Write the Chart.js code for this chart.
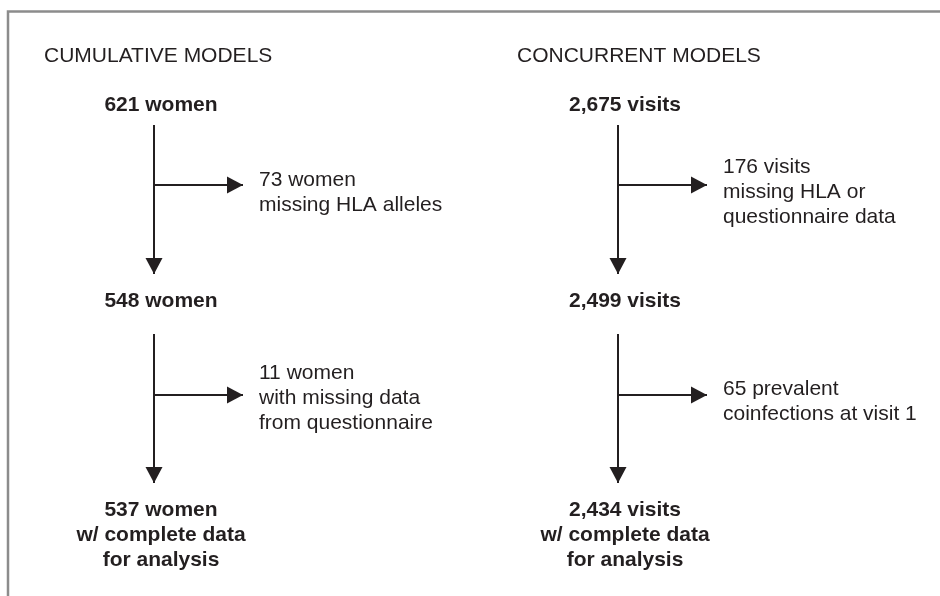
<!DOCTYPE html>
<html>
<head>
<meta charset="utf-8">
<title>Study flow</title>
<script src="https://cdn.jsdelivr.net/npm/chart.js@4.4.1/dist/chart.umd.min.js"></script>
<style>
    html, body { margin: 0; padding: 0; background: #fff; }
    #wrap { width: 940px; height: 596px; }
</style>
</head>
<body>
<div id="wrap"><canvas id="flow" width="940" height="596"></canvas></div>
<script>
// --- data ---
const headings = ['CUMULATIVE MODELS', 'CONCURRENT MODELS'];
const units = ['women', 'visits'];
const stageCounts = [[621, 548, 537], [2675, 2499, 2434]];
const excludedCounts = [[73, 11], [176, 65]];
const excludedFirstWord = [['women', 'women'], ['visits', 'prevalent']];
const excludedReasons = [
    [['missing HLA alleles'], ['with missing data', 'from questionnaire']],
    [['missing HLA or', 'questionnaire data'], ['coinfections at visit 1']]
];
const finalNote = ['w/ complete data', 'for analysis'];

// --- layout (pixel units on a 940 x 596 value grid) ---
const ink = '#231f20';
const frameColor = '#8c8c8c';
const fontFamily = '"Liberation Sans", Arial, Helvetica, sans-serif';
const fontSize = 21;
const lineH = 25;
const headingX = [44, 517];
const headingY = 56;
const stemX = [154, 618];
const nodeX = [161, 625];
const stageY = [105.5, 301.5, 510];
const stemTop = [125, 334];
const stemTip = [274, 483];
const branchY = [185, 395];
const branchTip = 89;     // branch length from stem to arrow tip
const sideTextGap = 105;  // stem to side text
const sideTextDy = [[8, 3], [7.5, 7]]; // block centre below its branch
const arrowLen = 16;
const arrowWidth = 17;

const fmt = n => n.toLocaleString('en-US');

// build line segments (stems and branches), arrow at the last point
const segments = [];
stemX.forEach((x, c) => {
    for (let s = 0; s < 2; s++) {
        segments.push([{ x: x, y: stemTop[s] }, { x: x, y: stemTip[s] }]);
        segments.push([{ x: x, y: branchY[s] }, { x: x + branchTip, y: branchY[s] }]);
    }
});

const datasets = segments.map(seg => ({
    data: seg,
    showLine: true,
    borderColor: ink,
    borderWidth: 2,
    borderCapStyle: 'butt',
    pointRadius: 0,
    arrow: true
}));

// frame: left and top rule
datasets.push({
    data: [{ x: 8, y: 596 }, { x: 8, y: 11.5 }, { x: 940, y: 11.5 }],
    showLine: true,
    borderColor: frameColor,
    borderWidth: 2.5,
    borderJoinStyle: 'miter',
    pointRadius: 0,
    arrow: false
});

const arrowPlugin = {
    id: 'arrows',
    afterDatasetsDraw(chart) {
        const ctx = chart.ctx;
        ctx.save();
        ctx.fillStyle = ink;
        chart.data.datasets.forEach((ds, i) => {
            if (!ds.arrow) return;
            const pts = chart.getDatasetMeta(i).data;
            const tip = pts[pts.length - 1];
            const prev = pts[pts.length - 2];
            const ang = Math.atan2(tip.y - prev.y, tip.x - prev.x);
            const bx = tip.x - Math.cos(ang) * arrowLen;
            const by = tip.y - Math.sin(ang) * arrowLen;
            const nx = -Math.sin(ang) * arrowWidth / 2;
            const ny = Math.cos(ang) * arrowWidth / 2;
            ctx.beginPath();
            ctx.moveTo(tip.x, tip.y);
            ctx.lineTo(bx + nx, by + ny);
            ctx.lineTo(bx - nx, by - ny);
            ctx.closePath();
            ctx.fill();
        });
        ctx.restore();
    }
};

const textPlugin = {
    id: 'flowText',
    afterDraw(chart) {
        const ctx = chart.ctx;
        const px = v => chart.scales.x.getPixelForValue(v);
        const py = v => chart.scales.y.getPixelForValue(v);
        ctx.save();
        ctx.fillStyle = ink;
        ctx.textBaseline = 'middle';

        // column headings
        ctx.font = `${fontSize}px ${fontFamily}`;
        ctx.textAlign = 'left';
        headings.forEach((h, c) => ctx.fillText(h, px(headingX[c]), py(headingY)));

        // stage boxes (bold, centred)
        ctx.font = `bold ${fontSize}px ${fontFamily}`;
        ctx.textAlign = 'center';
        stageCounts.forEach((counts, c) => {
            counts.forEach((n, s) => {
                const lines = [`${fmt(n)} ${units[c]}`];
                if (s === counts.length - 1) lines.push(...finalNote);
                lines.forEach((t, k) => ctx.fillText(t, px(nodeX[c]), py(stageY[s] + k * lineH)));
            });
        });

        // exclusions beside the branch arrows
        ctx.font = `${fontSize}px ${fontFamily}`;
        ctx.textAlign = 'left';
        excludedCounts.forEach((counts, c) => {
            counts.forEach((n, s) => {
                const lines = [`${fmt(n)} ${excludedFirstWord[c][s]}`, ...excludedReasons[c][s]];
                const top = branchY[s] + sideTextDy[c][s] - (lines.length - 1) * lineH / 2;
                lines.forEach((t, k) => ctx.fillText(t, px(stemX[c] + sideTextGap), py(top + k * lineH)));
            });
        });
        ctx.restore();
    }
};

new Chart(document.getElementById('flow'), {
    type: 'scatter',
    data: { datasets },
    options: {
        responsive: false,
        animation: false,
        devicePixelRatio: 1,
        layout: { padding: 0 },
        plugins: { legend: { display: false }, tooltip: { enabled: false } },
        scales: {
            x: { type: 'linear', min: 0, max: 940, display: false },
            y: { type: 'linear', min: 0, max: 596, reverse: true, display: false }
        }
    },
    plugins: [arrowPlugin, textPlugin]
});
</script>
</body>
</html>
